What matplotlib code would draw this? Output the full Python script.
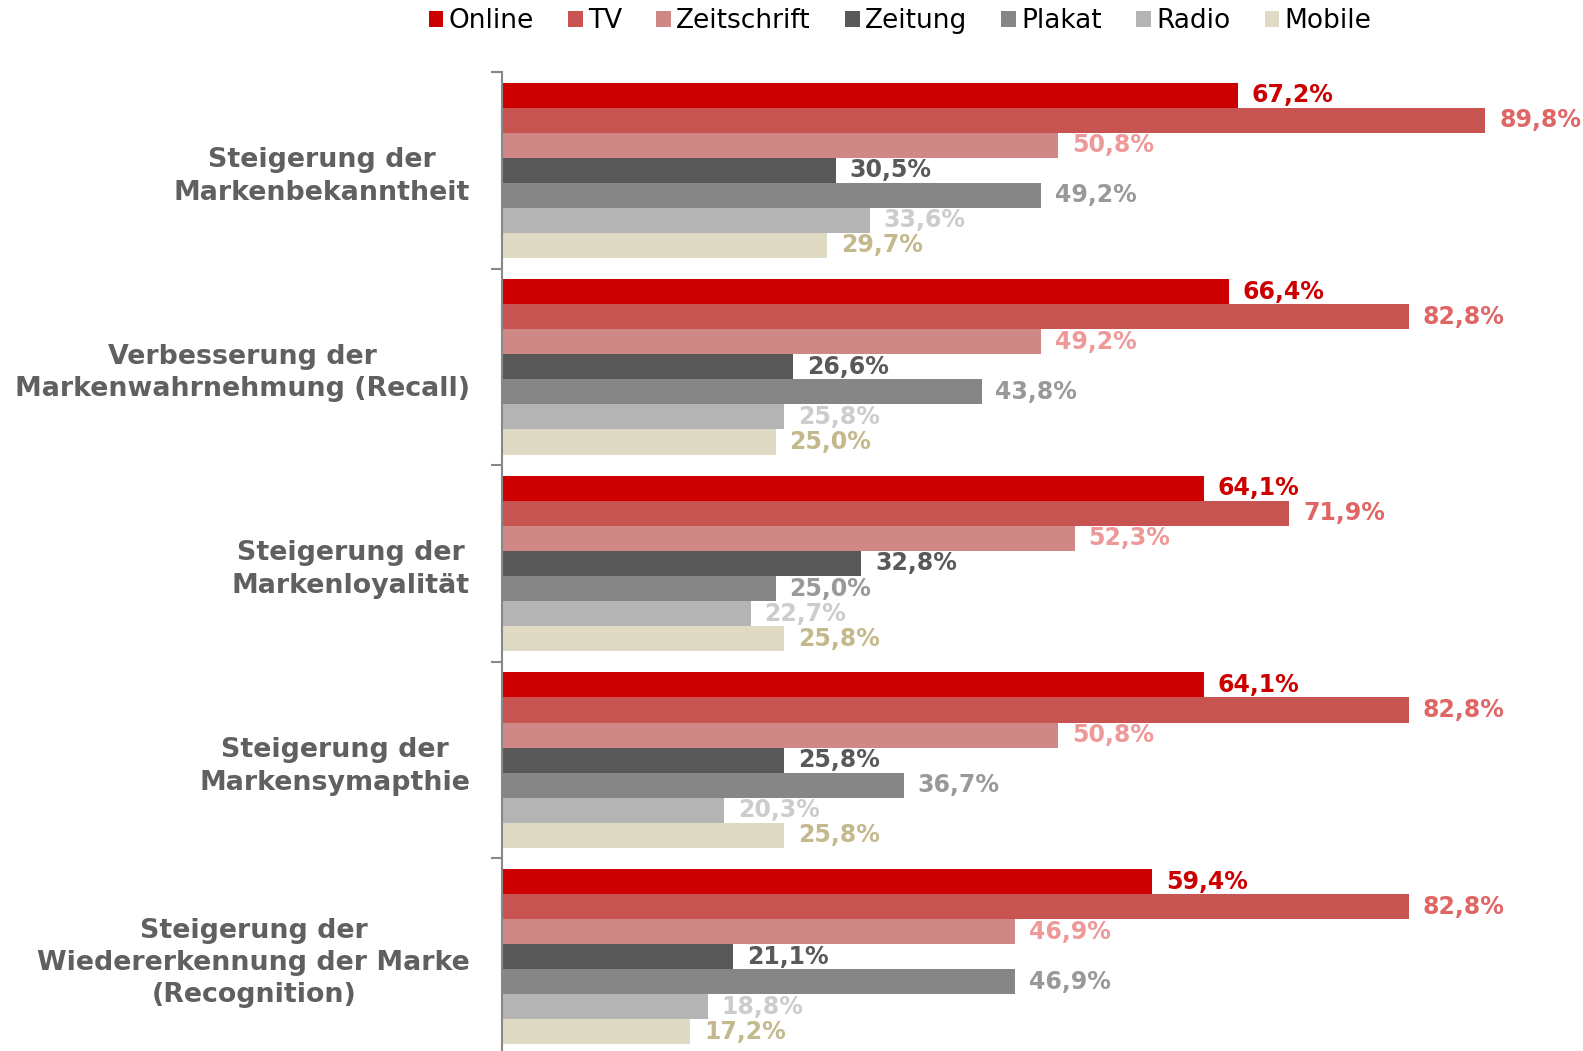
import numpy as np
import matplotlib
matplotlib.use("Agg")
import matplotlib.pyplot as plt
from matplotlib.patches import Patch

categories = [
    "Steigerung der\nMarkenbekanntheit",
    "Verbesserung der\nMarkenwahrnehmung (Recall)",
    "Steigerung der\nMarkenloyalität",
    "Steigerung der\nMarkensymapthie",
    "Steigerung der\nWiedererkennung der Marke\n(Recognition)",
]
series = ["Online", "TV", "Zeitschrift", "Zeitung", "Plakat", "Radio", "Mobile"]

online = [67.2, 66.4, 64.1, 64.1, 59.4]
tv = [89.8, 82.8, 71.9, 82.8, 82.8]
zeitschrift = [50.8, 49.2, 52.3, 50.8, 46.9]
zeitung = [30.5, 26.6, 32.8, 25.8, 21.1]
plakat = [49.2, 43.8, 25.0, 36.7, 46.9]
radio = [33.6, 25.8, 22.7, 20.3, 18.8]
mobile = [29.7, 25.0, 25.8, 25.8, 17.2]
values = [online, tv, zeitschrift, zeitung, plakat, radio, mobile]

bar_colors = ["#CC0000", "#C85452", "#D08886", "#595959", "#868686", "#B4B4B4", "#DFDAC4"]
label_colors = ["#CC0000", "#E06666", "#EE9999", "#595959", "#999999", "#CCCCCC", "#C4B98C"]

fig = plt.figure(figsize=(15.83, 10.51), dpi=100)
# axes spans x 502..1564 px, y 72..1055 px (from top)
ax = fig.add_axes([502 / 1583, (1051 - 1055) / 1051, 1062 / 1583, 983 / 1051])

bh = 0.1274
for j, (name, vals) in enumerate(zip(series, values)):
    ys = np.arange(len(categories)) - 0.446 + (j + 0.5) * bh
    ax.barh(ys, vals, height=bh, color=bar_colors[j], edgecolor="none")
    for y, v in zip(ys, vals):
        ax.annotate(f"{v:.1f}%".replace(".", ","), (v, y), xytext=(10, 0),
                    textcoords="offset points", va="center", ha="left",
                    fontsize=17, fontweight="bold", color=label_colors[j])

ax.set_xlim(0, 97)
ax.set_ylim(len(categories) - 0.5, -0.5)

ax.set_yticks(np.arange(len(categories) + 1) - 0.5)
ax.set_yticklabels([])
ax.set_yticks(np.arange(len(categories)), minor=True)
ax.set_yticklabels(categories, minor=True, fontsize=19.4, fontweight="bold",
                   color="#606060", multialignment="center", linespacing=1.32)
ax.tick_params(axis="y", which="major", length=8, width=1.5, color="#888888")
ax.tick_params(axis="y", which="minor", length=0, pad=23)
ax.set_xticks([])

for s in ["top", "right", "bottom"]:
    ax.spines[s].set_visible(False)
ax.spines["left"].set_color("#888888")
ax.spines["left"].set_linewidth(1.5)

handles = [Patch(facecolor=c, edgecolor="none") for c in bar_colors]
fig.legend(handles, series, loc="center", bbox_to_anchor=(900 / 1583, 1 - 21 / 1051),
           ncol=7, frameon=False, fontsize=19, handlelength=0.55, handleheight=0.55,
           handletextpad=0.2, columnspacing=1.3)

fig.savefig("out.png", dpi=100)
